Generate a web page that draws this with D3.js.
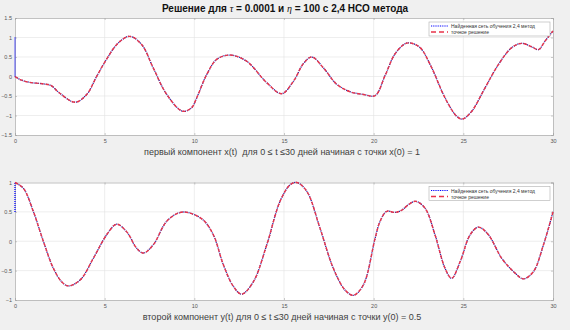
<!DOCTYPE html>
<html>
<head>
  <meta charset="utf-8">
  <title>Решение для tau и eta</title>
  <script src="https://d3js.org/d3.v7.min.js"></script>
  <style>
    body { margin: 0; background: #f0f0f0; }
    svg { display: block; font-family: "Liberation Sans", Arial, sans-serif; }
  </style>
</head>
<body>
  <svg id="chart"></svg>
  <script>
    // first component x(t)
    let tX = [0, 0.3, 0.8, 1.6, 2.0, 2.5, 3.35, 4.0, 4.55, 5.1, 5.76, 6.4, 7.06, 7.71, 8.46, 9.35,
              9.85, 10.13, 10.69, 11.25, 12.0, 12.92, 14.04, 14.87, 15.53, 16.08, 16.55, 17.2,
              17.94, 18.68, 19.43, 20.08, 20.64, 21.19, 21.75, 22.03, 22.59, 23.24, 23.98, 24.63,
              24.95, 25.47, 26.21, 26.96, 27.7, 28.26, 28.82, 29.19, 29.56, 30];
    let xVals = [0, -0.08, -0.15, -0.19, -0.23, -0.43, -0.66, -0.46, 0.0, 0.44, 0.86, 1.03, 0.82, 0.22, -0.46, -0.89,
                 -0.8, -0.55, 0.05, 0.44, 0.55, 0.39, -0.16, -0.44, -0.12, 0.33, 0.50, 0.22,
                 -0.20, -0.39, -0.46, -0.49, 0.03, 0.58, 0.84, 0.86, 0.74, 0.22, -0.55, -1.02,
                 -1.09, -0.89, -0.29, 0.31, 0.74, 0.85, 0.76, 0.69, 0.91, 1.17];
    // second component y(t)
    let tY = [0, 0.47, 1.02, 1.58, 2.14, 2.6, 2.97, 3.63, 4.37, 5.11, 5.67, 6.23, 6.79, 7.16, 7.71, 8.46,
              9.2, 9.76, 10.5, 11.06, 11.62, 12.18, 12.64, 13.29, 14.04, 14.78, 15.34, 15.71, 16.27,
              17.01, 17.75, 18.4, 18.87, 19.43, 20.08, 20.36, 20.73, 21.19, 21.57, 21.93, 22.34,
              22.87, 23.42, 23.98, 24.35, 24.82, 25.38, 25.84, 26.4, 27.14, 27.88, 28.35, 28.9, 29.47, 30];
    let yVals = [1.0, 0.90, 0.51, 0.0, -0.46, -0.69, -0.76, -0.66, -0.29, 0.11, 0.29, 0.16, -0.12, -0.20, -0.06, 0.34,
                 0.49, 0.48, 0.36, 0.11, -0.40, -0.77, -0.90, -0.69, -0.06, 0.68, 0.96, 1.0, 0.85,
                 0.22, -0.46, -0.83, -0.92, -0.74, 0.05, 0.34, 0.51, 0.49, 0.53, 0.62, 0.68,
                 0.56, 0.11, -0.46, -0.63, -0.35, 0.11, 0.24, 0.11, -0.29, -0.54, -0.64, -0.52, -0.06, 0.50];
    // network curve starts from the initial value and drops onto the solution
    let xStart = 1;
    let yStart = 0.5;

    let xTicks = [0, 5, 10, 15, 20, 25, 30];
    let topTicks = [-1.5, -1, -0.5, 0, 0.5, 1, 1.5];
    let botTicks = [-1, -0.5, 0, 0.5, 1];
    let legendLabels = ["Найденная сеть обучения 2,4 метод", "точное решение"];

    let width = 570, height = 330;
    let svg = d3.select("#chart").attr("width", width).attr("height", height);

    let x = d3.scaleLinear().domain([0, 30]).range([15, 553]);

    function panel(top, bottom, yDomain, yTicks, tArr, vArr, start, label, labelY) {
      let y = d3.scaleLinear().domain(yDomain).range([bottom, top]);
      let g = svg.append("g");

      g.append("rect")
        .attr("x", x(0)).attr("y", top)
        .attr("width", x(30) - x(0)).attr("height", bottom - top)
        .attr("fill", "white");

      // grid
      g.append("g").selectAll("line.v").data(xTicks.slice(1, -1)).enter().append("line")
        .attr("x1", d => x(d)).attr("x2", d => x(d))
        .attr("y1", top).attr("y2", bottom)
        .attr("stroke", "#e3e3e3").attr("stroke-width", 0.6);
      g.append("g").selectAll("line.h").data(yTicks.slice(1, -1)).enter().append("line")
        .attr("x1", x(0)).attr("x2", x(30))
        .attr("y1", d => y(d)).attr("y2", d => y(d))
        .attr("stroke", "#e3e3e3").attr("stroke-width", 0.6);

      // axes with inward ticks
      g.append("g").attr("transform", "translate(0," + bottom + ")")
        .call(d3.axisBottom(x).tickValues(xTicks).tickSize(-2).tickPadding(4));
      g.append("g").attr("transform", "translate(" + x(0) + ",0)")
        .call(d3.axisLeft(y).tickValues(yTicks).tickSize(-2).tickPadding(3).tickFormat(d3.format("")));
      g.append("g").attr("transform", "translate(" + x(30) + ",0)")
        .call(d3.axisRight(y).tickValues(yTicks).tickSize(-2).tickFormat(""));
      g.append("g").attr("transform", "translate(0," + top + ")")
        .call(d3.axisTop(x).tickValues(xTicks).tickSize(-2).tickFormat(""));
      g.selectAll(".domain").attr("stroke", "#a8a8a8").attr("stroke-width", 0.7);
      g.selectAll(".tick line").attr("stroke", "#a8a8a8").attr("stroke-width", 0.6);
      g.selectAll(".tick text").attr("fill", "#555").style("font-size", "5.5px")
        .style("font-family", "'Liberation Sans', Arial, sans-serif");

      let pts = tArr.map((t, i) => [t, vArr[i]]);
      let line = d3.line().x(d => x(d[0])).y(d => y(d[1])).curve(d3.curveCatmullRom.alpha(0.5));

      // network (blue dotted)
      g.append("path")
        .attr("d", d3.line().x(d => x(d[0])).y(d => y(d[1]))([[0, start], pts[0]]))
        .attr("fill", "none").attr("stroke", "#0000ff").attr("stroke-width", 1.3)
        .attr("stroke-dasharray", "1,1");
      g.append("path")
        .attr("d", line(pts))
        .attr("fill", "none").attr("stroke", "#1a1aa0").attr("stroke-width", 1.3)
        .attr("stroke-dasharray", "1,1");
      // exact solution (red dashed)
      g.append("path")
        .attr("d", line(pts))
        .attr("fill", "none").attr("stroke", "#e8334a").attr("stroke-width", 1.4)
        .attr("stroke-dasharray", "3.5,1.8");

      // legend
      let lg = g.append("g").attr("transform", "translate(429," + (top + 4) + ")");
      lg.append("rect").attr("width", 121).attr("height", 14)
        .attr("fill", "white").attr("stroke", "#b0b0b0").attr("stroke-width", 0.6);
      lg.append("line").attr("x1", 2).attr("x2", 19).attr("y1", 4).attr("y2", 4)
        .attr("stroke", "#0000ff").attr("stroke-width", 1.2).attr("stroke-dasharray", "1,0.8");
      lg.append("line").attr("x1", 2).attr("x2", 19).attr("y1", 10).attr("y2", 10)
        .attr("stroke", "#e8334a").attr("stroke-width", 1.4).attr("stroke-dasharray", "5,3");
      lg.selectAll("text").data(legendLabels).enter().append("text")
        .attr("x", 22).attr("y", (d, i) => 6 + i * 6)
        .style("font-size", "5px").attr("fill", "#333")
        .text(d => d);

      svg.append("text")
        .attr("x", 282).attr("y", labelY)
        .attr("text-anchor", "middle")
        .style("font-size", "9px").style("white-space", "pre").attr("fill", "#404040")
        .text(label);
    }

    panel(18, 135, [-1.5, 1.5], topTicks, tX, xVals, xStart,
      "первый компонент x(t)  для 0 ≤ t ≤30 дней начиная с точки x(0) = 1", 155);
    panel(182.5, 300, [-1, 1], botTicks, tY, yVals, yStart,
      "второй компонент y(t) для 0 ≤ t ≤30 дней начиная с точки y(0) = 0.5", 320);

    // title
    let title = svg.append("text")
      .attr("x", 285).attr("y", 12)
      .attr("text-anchor", "middle")
      .style("font-size", "10px").style("font-weight", "bold").attr("fill", "#111");
    title.append("tspan").text("Решение для ");
    title.append("tspan").style("font-style", "italic").style("font-weight", "normal").style("font-family", "'Liberation Serif', serif").text("τ");
    title.append("tspan").text(" = 0.0001 и ");
    title.append("tspan").style("font-style", "italic").style("font-weight", "normal").style("font-family", "'Liberation Serif', serif").text("η");
    title.append("tspan").text(" = 100 с 2,4 НСО метода");
  </script>
</body>
</html>
